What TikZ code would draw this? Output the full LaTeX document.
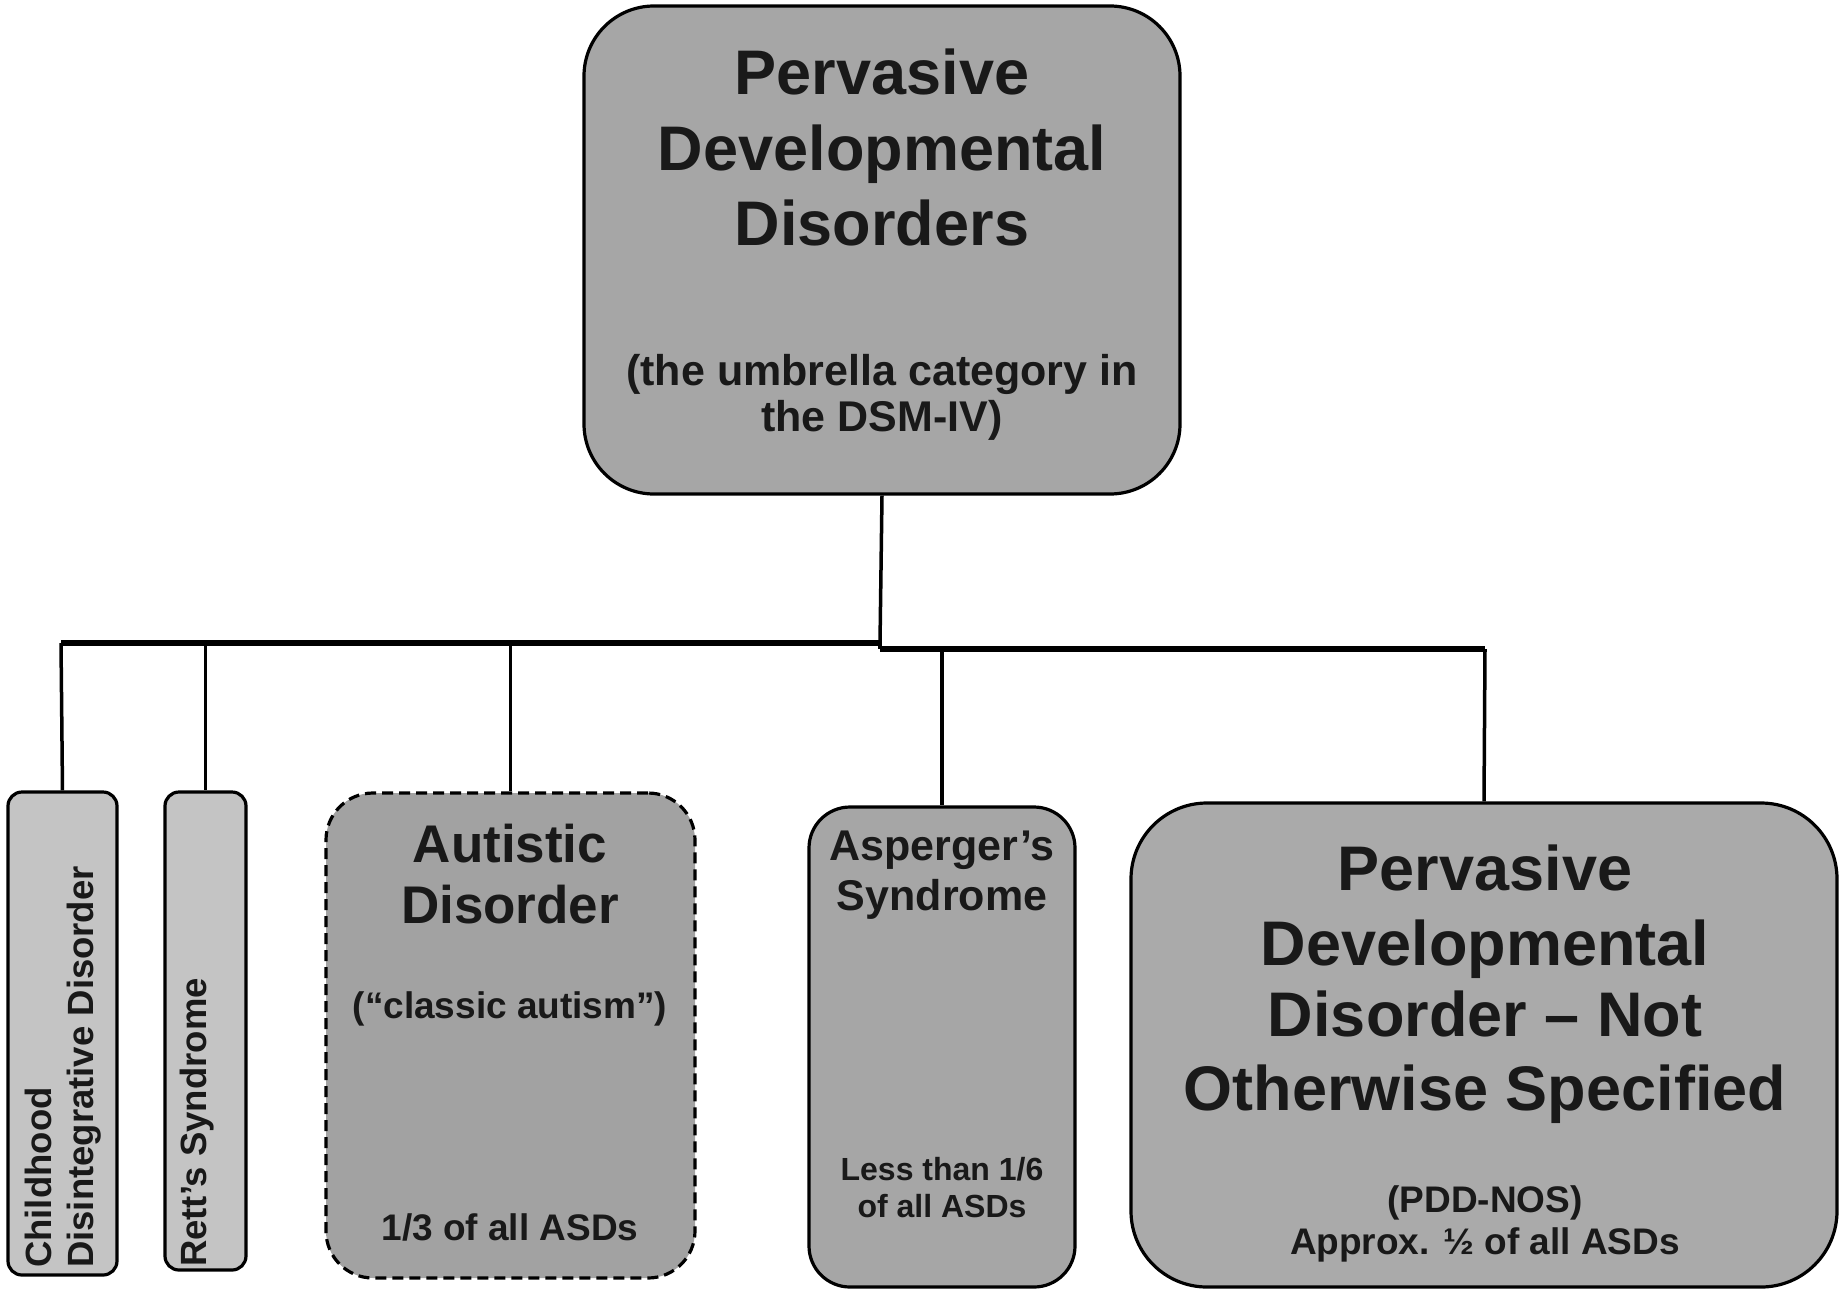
\documentclass[tikz,border=0pt]{standalone}
\usepackage{fontspec}
\setmainfont{Liberation Sans}
\definecolor{boxgray}{RGB}{166,166,166}
\definecolor{autgray}{RGB}{162,162,162}
\definecolor{pddgray}{RGB}{170,170,170}
\definecolor{lightbox}{RGB}{196,196,196}
\tikzset{
  box/.style={draw=black, line width=3.2pt, rounded corners=#1, inner sep=0pt, fill=boxgray},
  link/.style={draw=black, line width=3.5pt},
  bus/.style={draw=black, line width=5.5pt},
  tbig/.style={font=\fontsize{63}{75}\selectfont\bfseries, anchor=base, inner sep=0pt, text=black!90},
  tmid/.style={font=\fontsize{53}{61}\selectfont\bfseries, anchor=base, inner sep=0pt, text=black!90},
  tsub/.style={font=\fontsize{43}{52}\selectfont\bfseries, anchor=base, inner sep=0pt, text=black!90},
  tsm/.style={font=\fontsize{37}{43}\selectfont\bfseries, anchor=base, inner sep=0pt, text=black!90},
  tas/.style={font=\fontsize{32}{38}\selectfont\bfseries, anchor=base, inner sep=0pt, text=black!90},
  trot/.style={font=\fontsize{36.5}{42}\selectfont\bfseries, anchor=base west, rotate=90, inner sep=0pt, text=black!90},
}
\begin{document}
\begin{tikzpicture}[x=1pt,y=-1pt]
\useasboundingbox[fill=white] (0,0) rectangle (1839,1291);
% boxes
\node[box=70, minimum width=596pt, minimum height=488pt] (top) at (882,250) {};
\node[box=14, fill=lightbox, minimum width=109pt, minimum height=483pt] (cdd) at (62.5,1033.5) {};
\node[box=14, fill=lightbox, minimum width=81pt, minimum height=478pt] (rett) at (205.5,1031) {};
\node[box=47, fill=autgray, dash pattern=on 11pt off 6pt, minimum width=369pt, minimum height=485pt] (aut) at (510.5,1035.5) {};
\node[box=41, minimum width=266pt, minimum height=480pt] (asp) at (942,1047) {};
\node[box=76, fill=pddgray, minimum width=706pt, minimum height=484pt] (pdd) at (1484,1045) {};
% connectors
\coordinate (jL) at (880,643);
\coordinate (jR) at (880,649);
\coordinate (bL) at (61,643);
\coordinate (bR) at (1485,649);
\draw[link] (top.south) -- (jL);
\draw[bus] (bL) -- (jL);
\draw[link] (jL) -- (jR);
\draw[bus] (jR) -- (bR);
\draw[link] (bL) -- (cdd.north);
\draw[link] (bL -| rett.north) -- (rett.north);
\draw[link] (bL -| aut.north) -- (aut.north);
\draw[link] (jR -| asp.north) -- (asp.north);
\draw[link] (bR) -- (pdd.north);
% top text
\node[tbig] (t1) at (882,94) {Pervasive};
\node[tbig] (t2) at (882,170) {Developmental};
\node[tbig] (t3) at (882,245) {Disorders};
\node[tsub] (t4) at (882,385) {(the umbrella category in};
\node[tsub] (t5) at (882,431) {the DSM-IV)};
% CDD and Rett
\node[trot] (c1) at (51,1268) {Childhood};
\node[trot] (c2) at (93,1268) {Disintegrative Disorder};
\node[trot] (r1) at (206,1267) {Rett’s Syndrome};
% Autistic
\node[tmid] (a1) at (510,862) {Autistic};
\node[tmid] (a2) at (510,923) {Disorder};
\node[tsm] (a3) at (510,1018) {(“classic autism”)};
\node[tsm] (a4) at (510,1240) {1/3 of all ASDs};
% Asperger
\node[tsub] (s1) at (942,860) {Asperger’s};
\node[tsub] (s2) at (942,910) {Syndrome};
\node[tas] (s3) at (942,1180) {Less than 1/6};
\node[tas] (s4) at (942,1217) {of all ASDs};
% PDD-NOS
\node[tbig] (p1) at (1485,890) {Pervasive};
\node[tbig] (p2) at (1485,965) {Developmental};
\node[tbig] (p3) at (1485,1036) {Disorder – Not};
\node[tbig] (p4) at (1485,1110) {Otherwise Specified};
\node[tsm] (p5) at (1485,1212) {(PDD-NOS)};
\node[tsm] (p6) at (1485,1254) {Approx. ½ of all ASDs};
\end{tikzpicture}
\end{document}
